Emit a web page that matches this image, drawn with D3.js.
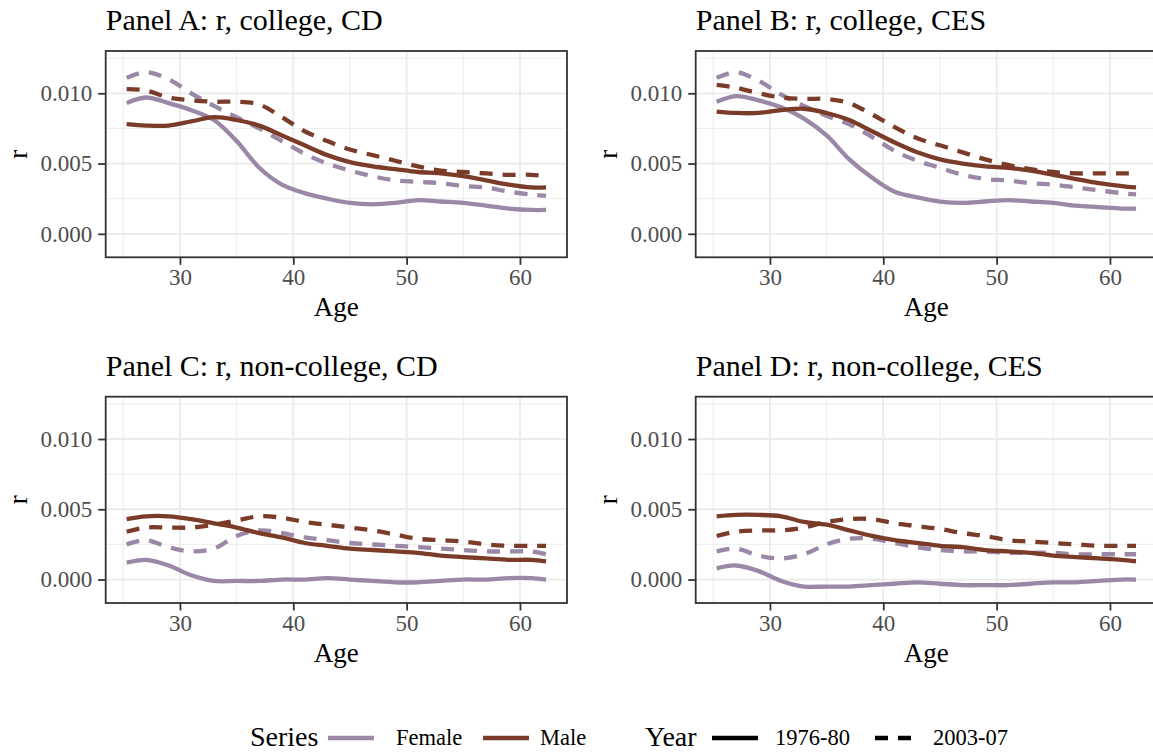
<!DOCTYPE html>
<html><head><meta charset="utf-8">
<script src="https://cdn.jsdelivr.net/npm/d3@7"></script>
<style>body{margin:0;background:#fff;} svg{display:block;}</style>
</head><body><svg id="c" width="1153" height="754"></svg>
<script>
// ---------- data ----------
const ages = [25.3, 27, 29, 31, 33, 35, 37, 39, 41, 43, 45, 47, 49, 51, 53, 55, 57, 59, 61, 62.3];
const xTicks = [30, 40, 50, 60];
const xMinor = [25, 35, 45, 55];
const yTicks = [0, 0.005, 0.010];
const yTickLabels = ["0.000", "0.005", "0.010"];
const yMinor = [0.0025, 0.0075, 0.0125];
const panelTitles = ["Panel A: r, college, CD", "Panel B: r, college, CES", "Panel C: r, non-college, CD", "Panel D: r, non-college, CES"];
const seriesNames = ["Female", "Male"];
const yearNames = ["1976-80", "2003-07"];

// Panel A
const aFemale7680 = [.0093,.0097,.0093,.0088,.0081,.0066,.0047,.0035,.0029,.0025,.0022,.0021,.0022,.0024,.0023,.0022,.0020,.0018,.0017,.0017];
const aFemale0307 = [.0111,.0115,.0110,.0100,.0091,.0083,.0075,.0066,.0057,.0050,.0045,.0041,.0038,.0037,.0036,.0034,.0033,.0030,.0028,.0027];
const aMale7680   = [.0078,.0077,.0077,.0080,.0083,.0081,.0077,.0070,.0063,.0056,.0051,.0048,.0046,.0044,.0043,.0041,.0038,.0035,.0033,.0033];
const aMale0307   = [.0103,.0102,.0097,.0095,.0094,.0094,.0092,.0083,.0073,.0066,.0060,.0056,.0052,.0048,.0045,.0044,.0043,.0042,.0042,.0041];
// Panel B
const bFemale7680 = [.0094,.0098,.0095,.0090,.0082,.0070,.0053,.0040,.0030,.0026,.0023,.0022,.0023,.0024,.0023,.0022,.0020,.0019,.0018,.0018];
const bFemale0307 = [.0111,.0115,.0109,.0099,.0091,.0084,.0078,.0069,.0059,.0052,.0047,.0042,.0039,.0038,.0036,.0035,.0033,.0031,.0029,.0028];
const bMale7680   = [.0087,.0086,.0086,.0088,.0089,.0086,.0081,.0073,.0065,.0058,.0053,.0050,.0048,.0047,.0045,.0042,.0039,.0036,.0034,.0033];
const bMale0307   = [.0106,.0104,.0100,.0097,.0096,.0096,.0093,.0085,.0076,.0068,.0063,.0058,.0053,.0049,.0046,.0044,.0043,.0043,.0043,.0043];
// Panel C
const cFemale7680 = [.0012,.0014,.0010,.0003,-.0001,-.0001,-.0001,.0000,.0000,.0001,.0000,-.0001,-.0002,-.0002,-.0001,.0000,.0000,.0001,.0001,.0000];
const cFemale0307 = [.0025,.0028,.0023,.0020,.0022,.0031,.0035,.0033,.0030,.0028,.0026,.0025,.0024,.0023,.0022,.0021,.0020,.0020,.0020,.0018];
const cMale7680   = [.0043,.0045,.0045,.0043,.0040,.0037,.0033,.0030,.0026,.0024,.0022,.0021,.0020,.0019,.0017,.0016,.0015,.0014,.0014,.0013];
const cMale0307   = [.0034,.0037,.0037,.0037,.0039,.0042,.0045,.0044,.0041,.0039,.0037,.0035,.0032,.0029,.0028,.0027,.0025,.0024,.0024,.0024];
// Panel D
const dFemale7680 = [.0008,.0010,.0006,-.0001,-.0005,-.0005,-.0005,-.0004,-.0003,-.0002,-.0003,-.0004,-.0004,-.0004,-.0003,-.0002,-.0002,-.0001,.0000,.0000];
const dFemale0307 = [.0020,.0022,.0017,.0015,.0018,.0025,.0029,.0029,.0026,.0023,.0021,.0020,.0020,.0019,.0019,.0019,.0018,.0018,.0018,.0018];
const dMale7680   = [.0045,.0046,.0046,.0045,.0041,.0039,.0035,.0031,.0028,.0026,.0024,.0023,.0021,.0020,.0019,.0017,.0016,.0015,.0014,.0013];
const dMale0307   = [.0031,.0034,.0035,.0035,.0037,.0041,.0043,.0043,.0040,.0038,.0036,.0033,.0031,.0028,.0027,.0026,.0025,.0024,.0024,.0024];

// ---------- style ----------
const colors = {Female: "#9b87a6", Male: "#7b3b29"};
const dashes = {"1976-80": null, "2003-07": "13,10"};
const FONT = "'Liberation Serif','Times New Roman',serif";
const LW = 4.3;

const panels = [
  {title: panelTitles[0], left: 105.7, top: 51, series: [[aFemale7680,"Female","1976-80"],[aFemale0307,"Female","2003-07"],[aMale7680,"Male","1976-80"],[aMale0307,"Male","2003-07"]]},
  {title: panelTitles[1], left: 695.7, top: 51, series: [[bFemale7680,"Female","1976-80"],[bFemale0307,"Female","2003-07"],[bMale7680,"Male","1976-80"],[bMale0307,"Male","2003-07"]]},
  {title: panelTitles[2], left: 105.7, top: 396.7, series: [[cFemale7680,"Female","1976-80"],[cFemale0307,"Female","2003-07"],[cMale7680,"Male","1976-80"],[cMale0307,"Male","2003-07"]]},
  {title: panelTitles[3], left: 695.7, top: 396.7, series: [[dFemale7680,"Female","1976-80"],[dFemale0307,"Female","2003-07"],[dMale7680,"Male","1976-80"],[dMale0307,"Male","2003-07"]]}
];

const W = 461.3, H = 206.3;
const x = d3.scaleLinear().domain([23.45, 64.15]).range([0, W]);
const y = d3.scaleLinear().domain([-0.00167, 0.01301]).range([H, 0]);

const svg = d3.select("#c");
svg.append("rect").attr("width", 1153).attr("height", 754).attr("fill", "#fff");

const line = d3.line().x((d, i) => x(ages[i])).y(d => y(d)).curve(d3.curveCatmullRom.alpha(0.5));

panels.forEach(p => {
  const g = svg.append("g").attr("transform", `translate(${p.left},${p.top})`);
  g.append("rect").attr("width", W).attr("height", H).attr("fill", "#fff");
  // grid
  g.selectAll(".xmin").data(xMinor).join("line").attr("x1", d => x(d)).attr("x2", d => x(d)).attr("y1", 0).attr("y2", H).attr("stroke", "#ebebeb").attr("stroke-width", 0.9);
  g.selectAll(".ymin").data(yMinor).join("line").attr("y1", d => y(d)).attr("y2", d => y(d)).attr("x1", 0).attr("x2", W).attr("stroke", "#ebebeb").attr("stroke-width", 0.9);
  g.selectAll(".xmaj").data(xTicks).join("line").attr("x1", d => x(d)).attr("x2", d => x(d)).attr("y1", 0).attr("y2", H).attr("stroke", "#ebebeb").attr("stroke-width", 1.8);
  g.selectAll(".ymaj").data(yTicks).join("line").attr("y1", d => y(d)).attr("y2", d => y(d)).attr("x1", 0).attr("x2", W).attr("stroke", "#ebebeb").attr("stroke-width", 1.8);
  // lines
  p.series.forEach(([vals, s, yr]) => {
    g.append("path").datum(vals).attr("d", line).attr("fill", "none")
      .attr("stroke", colors[s]).attr("stroke-width", LW)
      .attr("stroke-dasharray", dashes[yr]);
  });
  // border
  g.append("rect").attr("width", W).attr("height", H).attr("fill", "none").attr("stroke", "#333333").attr("stroke-width", 1.8);
  // axes
  const ya = d3.axisLeft(y).tickValues(yTicks).tickFormat((d, i) => yTickLabels[i]).tickSize(7.5).tickPadding(6);
  const yg = g.append("g").call(ya);
  const xa = d3.axisBottom(x).tickValues(xTicks).tickFormat(d3.format("d")).tickSize(7.5).tickPadding(4);
  const xg = g.append("g").attr("transform", `translate(0,${H})`).call(xa);
  [yg, xg].forEach(a => {
    a.select(".domain").remove();
    a.selectAll(".tick line").attr("stroke", "#333333").attr("stroke-width", 1.8);
    a.selectAll(".tick text").attr("fill", "#4d4d4d").style("font-family", FONT).style("font-size", "23px");
  });
  // titles
  g.append("text").attr("x", 0).attr("y", -21).text(p.title).style("font-family", FONT).style("font-size", "30px").attr("fill", "#000");
  g.append("text").attr("x", W / 2).attr("y", H + 59).attr("text-anchor", "middle").text("Age").style("font-family", FONT).style("font-size", "27px").attr("fill", "#000");
  g.append("text").attr("transform", `translate(-79,${H / 2}) rotate(-90)`).attr("text-anchor", "middle").text("r").style("font-family", FONT).style("font-size", "27px").attr("fill", "#000");
});

// ---------- legend ----------
const lg = svg.append("g");
const legY = 738;
lg.append("text").attr("x", 250).attr("y", 746).text("Series").style("font-family", FONT).style("font-size", "28px");
const sKeys = [{name: seriesNames[0], x1: 328, tx: 396}, {name: seriesNames[1], x1: 483, tx: 540}];
sKeys.forEach(k => {
  lg.append("line").attr("x1", k.x1).attr("x2", k.x1 + 46).attr("y1", legY).attr("y2", legY).attr("stroke", colors[k.name]).attr("stroke-width", LW);
  lg.append("text").attr("x", k.tx).attr("y", 745).text(k.name).style("font-family", FONT).style("font-size", "22.5px");
});
lg.append("text").attr("x", 645).attr("y", 746).text("Year").style("font-family", FONT).style("font-size", "28px");
const yKeys = [{name: yearNames[0], x1: 712, tx: 775}, {name: yearNames[1], x1: 875, tx: 933}];
yKeys.forEach(k => {
  lg.append("line").attr("x1", k.x1).attr("x2", k.x1 + 46).attr("y1", legY).attr("y2", legY).attr("stroke", "#000").attr("stroke-width", LW).attr("stroke-dasharray", dashes[k.name]);
  lg.append("text").attr("x", k.tx).attr("y", 745).text(k.name).style("font-family", FONT).style("font-size", "22.5px");
});
</script></body></html>
